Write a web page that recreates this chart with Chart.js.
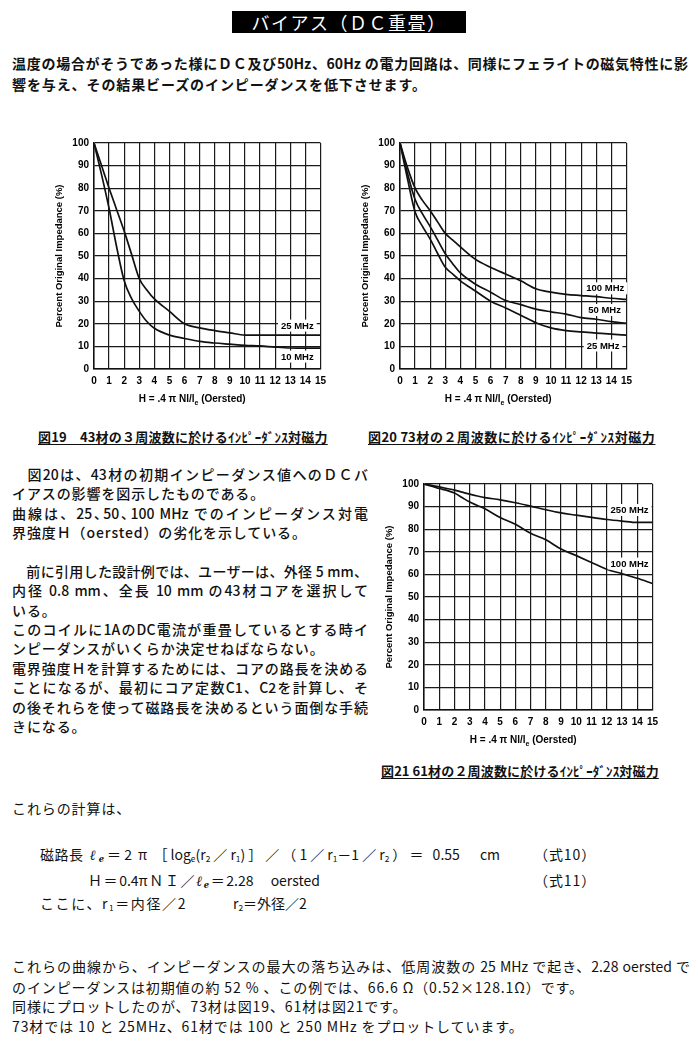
<!DOCTYPE html>
<html><head><meta charset="utf-8">
<script src="https://cdn.jsdelivr.net/npm/chart.js@4.4.1/dist/chart.umd.min.js"></script>
<style>
html,body{margin:0;padding:0;background:#fff;}
body{width:698px;height:1041px;position:relative;overflow:hidden;font-family:"Noto Sans CJK JP","Noto Sans",sans-serif;color:#111;}
.t{position:absolute;white-space:nowrap;line-height:1;font-size:14px;letter-spacing:0.9px;}
.j{white-space:nowrap;text-align:justify;text-align-last:justify;letter-spacing:0;}
.ib{display:inline-block;letter-spacing:0.5px;}
.b{font-weight:700;}
.m{font-weight:500;}
.cap{font-weight:700;font-size:13px;text-decoration:underline;text-underline-offset:2px;text-decoration-thickness:1.3px;}
sub{font-size:0.6em;vertical-align:-0.25em;line-height:0;}
.le{font-style:italic;font-weight:700;font-family:"DejaVu Serif",serif;}
#title{position:absolute;left:232px;top:11px;width:234px;height:22px;background:#000;color:#fff;font-size:18px;line-height:22px;text-align:center;letter-spacing:1.5px;}
canvas{position:absolute;}
</style></head><body>
<div id="title">バイアス（ＤＣ重畳）</div>

<div class="t j b" style="left:12px;top:56px;width:676px;">温度の場合がそうであった様にＤＣ及び50Hz、60Hz の電力回路は、同様にフェライトの磁気特性に影</div>
<div class="t b" style="left:12px;top:77px;">響を与え、その結果ビーズのインピーダンスを低下させます。</div>

<canvas id="c19" width="282" height="279" style="left:50px;top:132px;"></canvas>
<canvas id="c20" width="282" height="279" style="left:356px;top:132px;"></canvas>
<canvas id="c21" width="284" height="279" style="left:380px;top:473px;"></canvas>

<div class="t cap j" style="left:38px;top:430px;width:290px;">図19　43材の３周波数に於けるｲﾝﾋﾟｰﾀﾞﾝｽ対磁力</div>
<div class="t cap j" style="left:368px;top:430px;width:288px;">図20 73材の２周波数に於けるｲﾝﾋﾟｰﾀﾞﾝｽ対磁力</div>
<div class="t cap j" style="left:381px;top:764px;width:278px;">図21 61材の２周波数に於けるｲﾝﾋﾟｰﾀﾞﾝｽ対磁力</div>

<div class="t j m" style="left:12px;top:467px;width:356px;">　図20は、43材の初期インピーダンス値へのＤＣバ</div>
<div class="t m" style="left:12px;top:486px;">イアスの影響を図示したものである。</div>
<div class="t j m" style="left:12px;top:506px;width:356px;">曲線は、25､50､100 MHz でのインピーダンス対電</div>
<div class="t m" style="left:12px;top:525px;">界強度Ｈ（oersted）の劣化を示している。</div>
<div class="t j m" style="left:12px;top:564px;width:356px;">　前に引用した設計例では、ユーザーは、外径 5 mm、</div>
<div class="t j m" style="left:12px;top:583px;width:356px;">内径 0.8 mm、全長 10 mm の43材コアを選択して</div>
<div class="t m" style="left:12px;top:603px;">いる。</div>
<div class="t j m" style="left:12px;top:622px;width:356px;">このコイルに1AのDC電流が重畳しているとする時イ</div>
<div class="t m" style="left:12px;top:641px;">ンピーダンスがいくらか決定せねばならない。</div>
<div class="t j m" style="left:12px;top:661px;width:356px;">電界強度Ｈを計算するためには、コアの路長を決める</div>
<div class="t j m" style="left:12px;top:680px;width:356px;">ことになるが、最初にコア定数C1、C2を計算し、そ</div>
<div class="t j m" style="left:12px;top:700px;width:356px;">の後それらを使って磁路長を決めるという面倒な手続</div>
<div class="t m" style="left:12px;top:719px;">きになる。</div>

<div class="t" style="left:12px;top:801px;">これらの計算は、</div>
<div class="t j" style="left:40px;top:847px;width:460px;"><span class="ib">磁路長</span> <span class="le">ℓ<sub>e</sub></span>＝2 π ［log<sub>e</sub>(r<sub>2</sub>／r<sub>1</sub>)］／（1／r<sub>1</sub>－1／r<sub>2</sub>）＝ 0.55　cm</div>
<div class="t" style="left:534px;top:847px;">（式10）</div>
<div class="t j" style="left:88px;top:873px;width:232px;">Ｈ＝0.4πＮＩ／<span class="le">ℓ<sub>e</sub></span>＝2.28　oersted</div>
<div class="t" style="left:534px;top:873px;">（式11）</div>
<div class="t" style="left:40px;top:896px;letter-spacing:1.6px;">ここに、r<sub>1</sub>＝内径／2</div>
<div class="t" style="left:233px;top:896px;letter-spacing:0;">r<sub>2</sub>＝外径／2</div>

<div class="t j" style="left:12px;top:959px;width:678px;">これらの曲線から、インピーダンスの最大の落ち込みは、低周波数の 25 MHz で起き、2.28 oersted で</div>
<div class="t" style="left:12px;top:980px;">のインピーダンスは初期値の約 52 % 、この例では、66.6 Ω（0.52×128.1Ω）です。</div>
<div class="t" style="left:12px;top:999px;">同様にプロットしたのが、73材は図19、61材は図21です。</div>
<div class="t" style="left:12px;top:1019px;">73材では 10 と 25MHz、61材では 100 と 250 MHz をプロットしています。</div>

<script>
// ---------- data ----------
const xTicksH = [0,1,2,3,4,5,6,7,8,9,10,11,12,13,14,15];
const yTicksPct = [0,10,20,30,40,50,60,70,80,90,100];
const yTitle = 'Percent Original Impedance (%)';
const xTitleMain = 'H = .4 π Nl/l';
const xTitleSub = 'e';
const xTitleTail = ' (Oersted)';

const hPoints = [0,0.5,1,1.5,2,2.5,3,3.5,4,5,6,7,8,9,10,11,12,13,14,15];

// Fig 19 (43 material)
const fig19_25MHz = [100,90,80,70.5,61,50.5,40,35,31,25.5,20,18.2,17,16,15,15,15,15,15,15];
const fig19_10MHz = [100,86,71,54,39,31,25.5,21,18,15,13.5,12.2,11.5,11,10.5,10.2,9.7,9.3,9.2,9.2];
// Fig 20 (73 material)
const fig20_100MHz = [100,89,80,74.5,70,65,60,57,54,48.5,45,42,39,35.5,34,33,32.5,32,31.3,30.8];
const fig20_50MHz  = [100,86.5,75,68.5,63,57,51,46.5,42.5,37.5,34,30.3,28.5,26.5,25.3,24.3,22.7,22,21,20.2];
const fig20_25MHz  = [100,84,69.5,63,57.5,51,45,42,39,34.5,30,27,23.8,20.5,18.2,17,16.4,15.9,15.4,15];
// Fig 21 (61 material)
const fig21_250MHz = [100,99.4,98.7,98,97.3,96.4,95.5,94.7,94,93,91.7,90.2,88.6,87.2,86.2,85.2,84.3,83.6,83,83];
const fig21_100MHz = [100,99,98,97.2,96,94,92,90.5,89,85.2,82.2,78.2,75.3,71.2,68.3,65.3,62.3,60.3,58.3,56];

const fig19_labels = [{text:'25 MHz',x:13.47,y:19.2},{text:'10 MHz',x:13.47,y:5.5}];
const fig20_labels = [{text:'100 MHz',x:13.6,y:35.7},{text:'50 MHz',x:13.55,y:26.1},{text:'25 MHz',x:13.45,y:10.4}];
const fig21_labels = [{text:'250 MHz',x:13.5,y:88.5},{text:'100 MHz',x:13.5,y:64.8}];

// ---------- rendering ----------
const FONT = '"Liberation Sans", Arial, Helvetica, sans-serif';

const labelPlugin = {
  id: 'mhzLabels',
  afterDatasetsDraw(chart, args, opts) {
    const {ctx, scales:{x, y}} = chart;
    ctx.save();
    ctx.font = 'bold 9.5px ' + FONT;
    ctx.textAlign = 'center'; ctx.textBaseline = 'middle';
    (opts.items || []).forEach(it => {
      const px = x.getPixelForValue(it.x), py = y.getPixelForValue(it.y);
      const w = ctx.measureText(it.text).width;
      ctx.fillStyle = '#fff'; ctx.fillRect(px - w/2 - 3, py - 6, w + 6, 12);
      ctx.fillStyle = '#000'; ctx.fillText(it.text, px, py + 0.5);
    });
    ctx.restore();
  }
};

const xTitlePlugin = {
  id: 'xTitle',
  afterDraw(chart, args, opts) {
    const {ctx, chartArea} = chart;
    const cx = (chartArea.left + chartArea.right) / 2 + opts.dx;
    const cy = chartArea.bottom + opts.dy;
    const f = 'bold 10px ' + FONT, fs = 'bold 7px ' + FONT;
    ctx.save();
    ctx.font = f; const w1 = ctx.measureText(xTitleMain).width, w3 = ctx.measureText(xTitleTail).width;
    ctx.font = fs; const w2 = ctx.measureText(xTitleSub).width;
    const x0 = cx - (w1 + w2 + w3) / 2;
    ctx.fillStyle = '#000'; ctx.textAlign = 'left'; ctx.textBaseline = 'middle';
    ctx.font = f; ctx.fillText(xTitleMain, x0, cy);
    ctx.font = fs; ctx.fillText(xTitleSub, x0 + w1, cy + 4);
    ctx.font = f; ctx.fillText(xTitleTail, x0 + w1 + w2, cy);
    ctx.restore();
  }
};

function makeChart(id, series, labels) {
  const datasets = series.map(s => ({
    data: hPoints.map((h, i) => ({x: h, y: s[i]})),
    borderColor: '#111', borderWidth: 1.7, pointRadius: 0,
    cubicInterpolationMode: 'monotone', fill: false
  }));
  new Chart(document.getElementById(id), {
    type: 'line',
    data: {datasets},
    options: {
      responsive: false, animation: false, devicePixelRatio: 1,
      layout: {padding: {top: 10, right: 10, left: 0, bottom: 0}},
      plugins: {legend: {display: false}, tooltip: {enabled: false},
        mhzLabels: {items: labels}, xTitle: {dx: -15, dy: 30}},
      scales: {
        x: {type: 'linear', min: 0, max: 15,
          afterBuildTicks: sc => { sc.ticks = xTicksH.map(v => ({value: v})); },
          ticks: {font: {family: FONT, weight: 'bold', size: 10}, color: '#000', padding: 6, maxRotation: 0, autoSkip: false},
          grid: {color: '#1a1a1a', lineWidth: 1.2, drawTicks: false},
          border: {color: '#111', width: 1.5},
          afterFit: sc => { sc.height = 42; }},
        y: {type: 'linear', min: 0, max: 100,
          afterBuildTicks: sc => { sc.ticks = yTicksPct.map(v => ({value: v})); },
          ticks: {font: {family: FONT, weight: 'bold', size: 10}, color: '#000', padding: 5},
          grid: {color: '#1a1a1a', lineWidth: 1.2, drawTicks: false},
          border: {color: '#111', width: 1.5},
          title: {display: true, text: yTitle, color: '#000', font: {family: FONT, weight: 'bold', size: 9.5}, padding: {top: 3.5, bottom: 0}},
          afterFit: sc => { sc.width = 44; }}
      }
    },
    plugins: [labelPlugin, xTitlePlugin]
  });
}

makeChart('c19', [fig19_25MHz, fig19_10MHz], fig19_labels);
makeChart('c20', [fig20_100MHz, fig20_50MHz, fig20_25MHz], fig20_labels);
makeChart('c21', [fig21_250MHz, fig21_100MHz], fig21_labels);
</script>
</body></html>
